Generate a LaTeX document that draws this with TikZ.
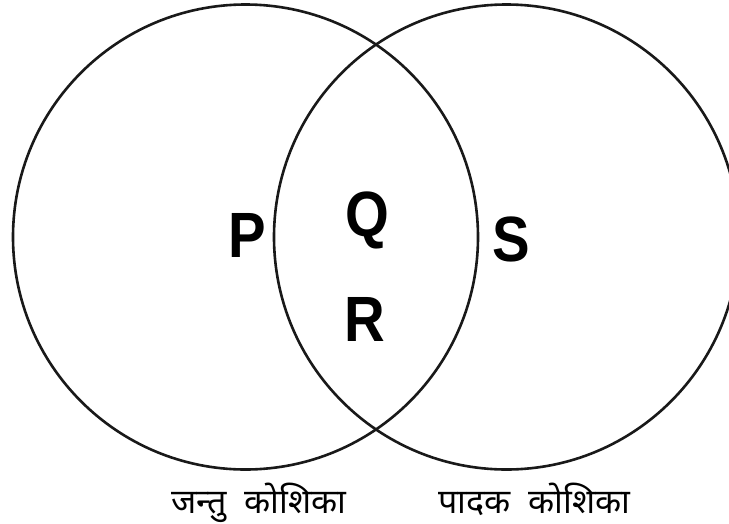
\documentclass[tikz,border=0pt]{standalone}
\usepackage{fontspec}
\setmainfont{Liberation Sans}
\newfontfamily\deva[Script=Devanagari]{Noto Sans}
\begin{document}
\begin{tikzpicture}[x=1pt,y=-1pt,
  ring/.style={draw=black!90,line width=2.6pt},
  region/.style={font=\fontsize{64}{64}\selectfont\bfseries,inner sep=0pt,xscale=0.88},
  caption/.style={font=\deva\fontsize{34}{34}\selectfont,inner sep=0pt}]
\useasboundingbox (0,0) rectangle (729,523);
\clip (0,0) rectangle (729,523);
\node[ring,circle,minimum size=465pt,inner sep=0pt] (A) at (245.5,237) {};
\node[ring,circle,minimum size=465pt,inner sep=0pt] (B) at (506.5,237) {};
\node[region,anchor=base] (P) at (247,257) {P};
\node[region,anchor=base] (Q) at (367,236) {Q};
\node[region,anchor=base] (R) at (365,341) {R};
\node[region,anchor=base] (S) at (511,261) {S};
\node[caption,anchor=base] (L1) at (259,513) {जन्तु\hspace{18pt}कोशिका};
\node[caption,anchor=base] (L2) at (534.5,513) {पादक\hspace{18pt}कोशिका};
\end{tikzpicture}
\end{document}
